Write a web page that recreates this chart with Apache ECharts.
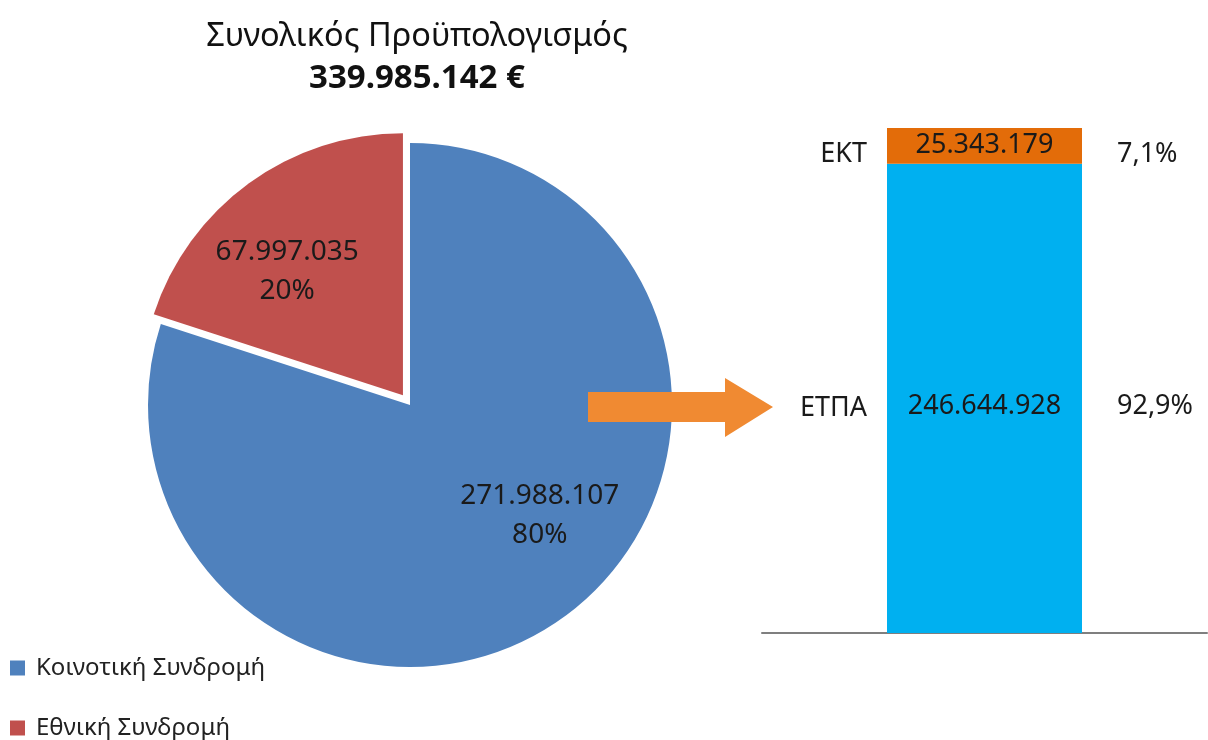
<!DOCTYPE html>
<html lang="el">
  <head>
    <meta charset="utf-8" />
    <title>Συνολικός Προϋπολογισμός</title>
    <script src="https://cdn.jsdelivr.net/npm/echarts@6/dist/echarts.min.js"></script>
    <style>
      html, body { margin: 0; padding: 0; background: #fff; }
      #main { width: 1208px; height: 740px; }
    </style>
  </head>
  <body>
    <div id="main"></div>
    <script type="text/javascript">
      // pie: community vs national contribution
      const pieNames = ["Κοινοτική Συνδρομή", "Εθνική Συνδρομή"];
      const pieValues = [271988107, 67997035];
      const pieColors = ["#4f81bd", "#c0504d"];

      // bar: split of the community contribution by fund (bottom to top)
      const fundNames = ["ΕΤΠΑ", "ΕΚΤ"];
      const fundAmounts = [246644928, 25343179];
      const fundShares = [92.9, 7.1];
      const fundColors = ["#00b0f0", "#e36c09"];

      const FONT = "Noto Sans";
      const INK = "#1a1a1a";

      // 339985142 -> "339.985.142"
      function fmt(n) {
        return String(n).replace(/\B(?=(\d{3})+(?!\d))/g, ".");
      }
      const total = pieValues.reduce((a, b) => a + b, 0);

      const chart = echarts.init(document.getElementById("main"));

      // the visible stacked bar, amounts inside
      const barSeries = fundNames.map((name, i) => ({
        name: name,
        type: "bar",
        stack: "fund",
        barWidth: 195,
        barGap: "-100%",
        data: [fundShares[i]],
        itemStyle: { color: fundColors[i] },
        emphasis: { disabled: true },
        z: 3,
        label: {
          show: true,
          position: "inside",
          color: INK,
          fontSize: 27,
          fontFamily: FONT,
          offset: [0, i === 0 ? 8 : -1],
          formatter: () => fmt(fundAmounts[i]),
        },
      }));

      // transparent twins of the same stack, only to carry the side labels
      const nameSeries = fundNames.map((name, i) => ({
        name: name + " ",
        type: "bar",
        stack: "names",
        barWidth: 195,
        barGap: "-100%",
        data: [fundShares[i]],
        itemStyle: { color: "rgba(0,0,0,0)" },
        emphasis: { disabled: true },
        silent: true,
        z: 1,
        label: {
          show: true,
          position: "left",
          distance: 20,
          color: INK,
          fontSize: 27,
          fontFamily: FONT,
          offset: [0, i === 0 ? 10 : 8],
          formatter: () => name,
        },
      }));

      const shareSeries = fundNames.map((name, i) => ({
        name: name + "  ",
        type: "bar",
        stack: "shares",
        barWidth: 195,
        barGap: "-100%",
        data: [fundShares[i]],
        itemStyle: { color: "rgba(0,0,0,0)" },
        emphasis: { disabled: true },
        silent: true,
        z: 1,
        label: {
          show: true,
          position: "right",
          distance: 35,
          color: INK,
          fontSize: 27,
          fontFamily: FONT,
          offset: [0, 8],
          formatter: () => String(fundShares[i]).replace(".", ",") + "%",
        },
      }));

      const legendBase = {
        orient: "vertical",
        left: 10,
        padding: 0,
        itemWidth: 15,
        itemHeight: 15,
        icon: "rect",
        selectedMode: false,
        textStyle: { fontSize: 24, color: "#222", fontFamily: FONT, padding: [0, 0, 0, 6] },
      };

      const option = {
        backgroundColor: "#ffffff",
        animation: false,
        textStyle: { fontFamily: FONT },
        title: {
          left: 412,
          top: 15,
          textAlign: "center",
          text: "Συνολικός Προϋπολογισμός",
          subtext: fmt(total) + " €",
          itemGap: 9,
          textStyle: { fontSize: 32.5, fontWeight: "normal", color: "#111", fontFamily: FONT },
          subtextStyle: { fontSize: 33, fontWeight: "bold", color: "#111", fontFamily: FONT },
        },
        legend: [
          Object.assign({}, legendBase, { top: 656, data: [pieNames[0]] }),
          Object.assign({}, legendBase, { top: 716, data: [pieNames[1]] }),
        ],
        grid: { left: 762, right: 1, top: 128, bottom: 107 },
        xAxis: {
          type: "category",
          data: ["Κοινοτική Συνδρομή"],
          axisLine: { show: true, lineStyle: { color: "#7f7f7f", width: 2 } },
          axisTick: { show: false },
          axisLabel: { show: false },
        },
        yAxis: {
          type: "value",
          min: 0,
          max: 100,
          show: false,
        },
        graphic: [
          {
            // arrow from the pie to the bar
            type: "polygon",
            z: 100,
            shape: {
              points: [
                [588, 392], [725, 392], [725, 378], [773, 407],
                [725, 437], [725, 422], [588, 422],
              ],
            },
            style: { fill: "#f08a32" },
          },
        ],
        series: [
          {
            name: "Προϋπολογισμός",
            type: "pie",
            center: [410, 405],
            radius: 262,
            startAngle: 90,
            clockwise: true,
            selectedMode: "single",
            selectedOffset: 12,
            emphasis: { disabled: true },
            data: pieNames.map((n, i) => ({
              name: n,
              value: pieValues[i],
              selected: i === 1,
              itemStyle: { color: pieColors[i] },
            })),
            select: { itemStyle: { color: pieColors[1] } },
            label: {
              show: true,
              position: "inside",
              fontSize: 28,
              lineHeight: 39,
              color: INK,
              fontFamily: FONT,
              formatter: (p) => fmt(p.value) + "\n" + Math.round((p.value / total) * 100) + "%",
            },
            labelLine: { show: false },
            labelLayout: (p) => (p.dataIndex === 0 ? { dx: 51, dy: 2 } : { dx: -37, dy: -15 }),
          },
        ].concat(barSeries, nameSeries, shareSeries),
      };

      chart.setOption(option);
    </script>
  </body>
</html>
